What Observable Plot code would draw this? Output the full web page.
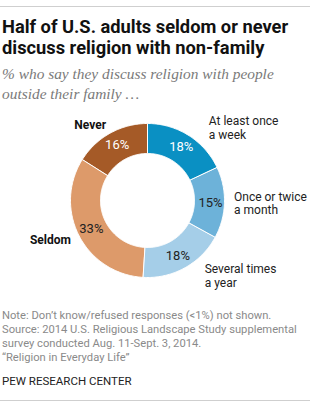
<!DOCTYPE html>
<html><head><meta charset="utf-8">
<script src="https://cdn.jsdelivr.net/npm/d3@7"></script>
<script src="https://cdn.jsdelivr.net/npm/@observablehq/plot@0.6"></script>
<style>
body{margin:0;background:#fff;}
#wrap{position:relative;width:310px;height:408px;overflow:hidden;font-family:Roboto,"Liberation Sans",sans-serif;}
.rule{position:absolute;left:0;width:310px;height:1px;background:#cfcfcf;}
#title{position:absolute;left:2px;top:16px;width:308px;font-family:"Liberation Sans Narrow","Roboto",sans-serif;font-weight:bold;font-size:18.3px;line-height:21px;color:#111;}
#subtitle{position:absolute;left:2px;top:64px;width:308px;font-family:"Liberation Serif",serif;font-style:italic;font-size:15.4px;line-height:20px;color:#7a7a7a;}
#chart{position:absolute;left:0;top:100px;}
#notes{position:absolute;left:2px;top:309px;width:308px;font-size:11.2px;line-height:14px;color:#8a8a8a;}
#credit{position:absolute;left:2px;top:374px;font-size:11.5px;line-height:14px;color:#222;}
</style>
</head><body>
<div id="wrap">
<div class="rule" style="top:6px"></div>
<div id="title">Half of U.S. adults seldom or never<br>discuss religion with non-family</div>
<div id="subtitle">% who say they discuss religion with people<br>outside their family …</div>
<div id="chart"></div>
<div id="notes">Note: Don’t know/refused responses (&lt;1%) not shown.<br>Source: 2014 U.S. Religious Landscape Study supplemental<br>survey conducted Aug. 11-Sept. 3, 2014.<br>“Religion in Everyday Life”</div>
<div id="credit">PEW RESEARCH CENTER</div>
<div class="rule" style="top:400px"></div>
</div>
<script>
const categories = ["At least once a week", "Once or twice a month", "Several times a year", "Seldom", "Never"];
const labels = ["At least once\na week", "Once or twice\na month", "Several times\na year", "Seldom", "Never"];
const values = [18, 15, 18, 33, 16];
const colors = ["#0a90c3", "#6db2d9", "#a5cee8", "#dd9a6a", "#a55a27"];

const outerR = 77, innerR = 47, pctR = 63, labelR = 86;
const total = d3.sum(values);
const cum = d3.cumsum(values);
const slices = categories.map((c, i) => {
  const a0 = (cum[i] - values[i]) / total * 2 * Math.PI;
  const a1 = cum[i] / total * 2 * Math.PI;
  const am = (a0 + a1) / 2;
  const s = Math.sin(am), co = Math.cos(am);
  return {
    key: c, label: labels[i], value: values[i], a0, a1, am,
    px: pctR * s, py: pctR * co,
    lx: labelR * s + (s > 0 ? 18 * Math.abs(co) : 0), ly: labelR * co,
    right: s > 0,
    dark: d3.lab(colors[i]).l < 60
  };
});
const pts = [];
for (const sl of slices) {
  const n = Math.max(2, Math.ceil((sl.a1 - sl.a0) / (Math.PI / 180)));
  for (let k = 0; k <= n; k++) {
    const a = sl.a0 + (sl.a1 - sl.a0) * k / n;
    pts.push({key: sl.key, x: outerR * Math.sin(a), y: outerR * Math.cos(a)});
  }
  for (let k = n; k >= 0; k--) {
    const a = sl.a0 + (sl.a1 - sl.a0) * k / n;
    pts.push({key: sl.key, x: innerR * Math.sin(a), y: innerR * Math.cos(a)});
  }
}

const chart = Plot.plot({
  width: 310, height: 200,
  margin: 0,
  x: {domain: [-147, 163], range: [0, 310], axis: null},
  y: {domain: [-100, 100], range: [200, 0], axis: null},
  color: {domain: categories, range: colors},
  style: {fontFamily: "Roboto, 'Liberation Sans', sans-serif", background: "transparent", overflow: "visible"},
  marks: [
    Plot.line(pts, {x: "x", y: "y", z: "key", fill: "key", stroke: "#fff", strokeWidth: 1, curve: "linear-closed"}),
    Plot.text(slices.filter(d => d.dark), {x: "px", y: "py", text: d => d.value + "%", fill: "#fff", fontSize: 13}),
    Plot.text(slices.filter(d => !d.dark), {x: "px", y: "py", text: d => d.value + "%", fill: "#222", fontSize: 13}),
    Plot.text(slices.filter(d => d.right), {x: "lx", y: "ly", text: "label", textAnchor: "start", fill: "#222", fontSize: 12, lineHeight: 1.12}),
    Plot.text(slices.filter(d => !d.right), {x: "lx", y: "ly", text: "label", textAnchor: "end", fill: "#111", fontSize: 12, fontWeight: "bold", lineHeight: 1.12})
  ]
});
document.getElementById("chart").appendChild(chart);
</script>
</body></html>
